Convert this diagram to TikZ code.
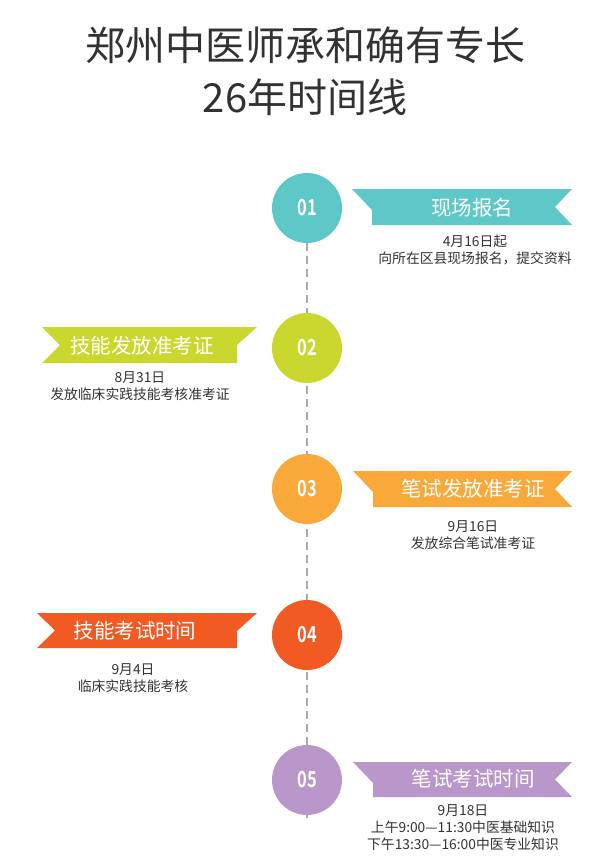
\documentclass[tikz,border=0pt]{standalone}
\usepackage{fontspec}
\setmainfont{Noto Sans CJK SC}[BoldFont={* Bold}]
\usetikzlibrary{backgrounds}
\definecolor{cteal}{RGB}{94,200,201}
\definecolor{clime}{RGB}{201,215,46}
\definecolor{corange}{RGB}{248,169,58}
\definecolor{cred}{RGB}{241,90,34}
\definecolor{cpurple}{RGB}{186,151,203}
\definecolor{ctext}{RGB}{50,50,50}
\definecolor{cline}{RGB}{170,170,170}
\tikzset{
  numcircle/.style={circle, fill=#1, minimum size=70pt, inner sep=0pt, text=white,
    font=\bfseries\fontsize{22}{22}\selectfont},
  ribtext/.style={text=white, inner sep=0pt, font=\fontsize{20.5}{20.5}\selectfont},
  datetext/.style={text=ctext, align=center, inner sep=0pt,
    font=\fontsize{13.8}{17}\selectfont},
  titletext/.style={text=ctext, align=center, inner sep=0pt,
    font=\fontsize{40}{52}\selectfont},
  timeline/.style={draw=cline, line width=1.5pt, dash pattern=on 8pt off 5pt}
}
\newcommand{\ribR}[5]{% color, L, R, top, bottom
  \fill[#1] (#2,#4) -- (#3,#4) -- (#3-17,{(#4+#5)/2}) -- (#3,#5) -- (#2+20,#5) -- (#2+20,#4+21) -- cycle;}
\newcommand{\ribL}[5]{% color, L, R, top, bottom
  \fill[#1] (#3,#4) -- (#2,#4) -- (#2+18,{(#4+#5)/2}) -- (#2,#5) -- (#3-20,#5) -- (#3-20,#4+18) -- cycle;}
\begin{document}
\begin{tikzpicture}[x=1pt,y=-1pt]
\useasboundingbox (0,0) rectangle (609,860);
% title
\node[titletext] (title) at (305,71) {郑州中医师承和确有专长\\26年时间线};
% circles
\node[numcircle=cteal] (c1) at (307,208) {\scalebox{0.75}[1]{01}};
\node[numcircle=clime] (c2) at (307,348) {\scalebox{0.75}[1]{02}};
\node[numcircle=corange] (c3) at (307,489) {\scalebox{0.75}[1]{03}};
\node[numcircle=cred] (c4) at (307,635) {\scalebox{0.75}[1]{04}};
\node[numcircle=cpurple] (c5) at (307,780) {\scalebox{0.75}[1]{05}};
\coordinate (lend) at (307,818);
\begin{scope}[on background layer]
  \draw[timeline] (c1.south) -- (lend);
\end{scope}
% ribbons
\ribR{cteal}{352}{572}{189}{225}
\ribL{clime}{42}{257}{327}{363}
\ribR{corange}{353}{572}{471}{507}
\ribL{cred}{37}{257}{613}{648}
\ribR{cpurple}{353}{572}{762}{797}
\node[ribtext] (r1) at (472,208) {现场报名};
\node[ribtext] (r2) at (142,346) {技能发放准考证};
\node[ribtext] (r3) at (473,489) {笔试发放准考证};
\node[ribtext] (r4) at (135,631) {技能考试时间};
\node[ribtext] (r5) at (473,779) {笔试考试时间};
% dates
\node[datetext] (d1) at (475,250) {4月16日起\\向所在区县现场报名，提交资料};
\node[datetext] (d2) at (140,386) {8月31日\\发放临床实践技能考核准考证};
\node[datetext] (d3) at (473,535) {9月16日\\发放综合笔试准考证};
\node[datetext] (d4) at (133,678) {9月4日\\临床实践技能考核};
\node[datetext] (d5) at (463,828) {9月18日\\上午9:00—11:30中医基础知识\\下午13:30—16:00中医专业知识};
\end{tikzpicture}
\end{document}
